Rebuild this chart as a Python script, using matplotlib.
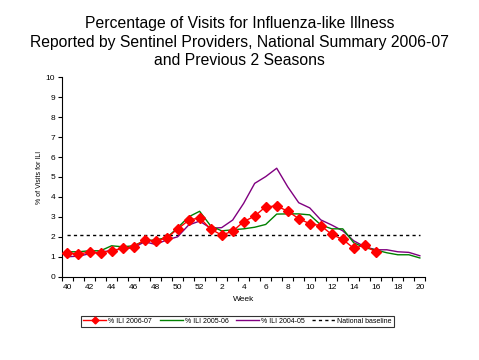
import matplotlib.pyplot as plt
import numpy as np

plt.rcParams['font.family'] = ['Liberation Sans', 'DejaVu Sans']

# weeks 40..52 then 1..20
weeks = list(range(40, 53)) + list(range(1, 21))

# % ILI by season (2006-07 only up to week 16)
ili_2006_07 = [1.17, 1.15, 1.22, 1.19, 1.31, 1.42, 1.5, 1.84, 1.79, 1.94, 2.39, 2.83, 2.96,
               2.39, 2.09, 2.28, 2.76, 3.04, 3.51, 3.54, 3.29, 2.91, 2.66, 2.56, 2.12, 1.87,
               1.42, 1.59, 1.22]
ili_2005_06 = [1.25, 1.25, 1.3, 1.3, 1.55, 1.5, 1.55, 1.8, 1.85, 1.95, 2.45, 3.0, 3.28,
               2.55, 2.3, 2.35, 2.4, 2.48, 2.62, 3.14, 3.15, 3.15, 3.1, 2.6, 2.4, 2.4,
               1.7, 1.45, 1.34, 1.2, 1.1, 1.1, 0.94]
ili_2004_05 = [1.0, 1.03, 1.15, 1.25, 1.3, 1.4, 1.45, 1.75, 1.62, 1.84, 2.0, 2.59, 2.79,
               2.43, 2.46, 2.84, 3.68, 4.68, 5.02, 5.44, 4.51, 3.71, 3.45, 2.85, 2.59, 2.3,
               1.8, 1.5, 1.35, 1.35, 1.25, 1.22, 1.05]
baseline = 2.1

x = np.arange(len(weeks))

fig = plt.figure(figsize=(4.79, 3.6), dpi=100)
ax = fig.add_axes([0.1294, 0.2314, 0.7586, 0.5539])

ax.plot(x[:len(ili_2006_07)], ili_2006_07, color='#FF0000', lw=1.0, marker='D',
        ms=5, mec='#FF0000', mfc='#FF0000', label='% ILI 2006-07', zorder=4)
ax.plot(x, ili_2005_06, color='#008000', lw=1.0, label='% ILI 2005-06', zorder=3)
ax.plot(x, ili_2004_05, color='#800080', lw=1.0, label='% ILI 2004-05', zorder=2)
ax.plot([x[0], x[-1]], [baseline, baseline], color='black', lw=1.0,
        linestyle=(0, (2.3, 2.3)), label='National baseline', zorder=1)

ax.set_xlim(-0.5, len(weeks) - 0.5)
ax.set_ylim(0, 10)
ax.set_yticks(range(0, 11))
ax.tick_params(axis='y', labelsize=6, length=3, width=0.8, pad=2)

# tick marks at category boundaries, labels at every other week
ax.set_xticks(np.arange(-0.5, len(weeks), 1.0))
ax.set_xticklabels([])
ax.tick_params(axis='x', which='major', length=3, width=0.8)
ax.set_xticks(x[::2], minor=True)
ax.set_xticklabels([str(w) for w in weeks[::2]], minor=True)
ax.tick_params(axis='x', which='minor', length=0, labelsize=6, pad=5)

for s in ['top', 'right']:
    ax.spines[s].set_visible(False)
for s in ['left', 'bottom']:
    ax.spines[s].set_linewidth(0.8)

ax.set_xlabel('Week', fontsize=6, labelpad=4)
ax.set_ylabel('% of Visits for ILI', fontsize=5, labelpad=2)

fig.text(0.5, 0.955, 'Percentage of Visits for Influenza-like Illness\n'
         'Reported by Sentinel Providers, National Summary 2006-07\n'
         'and Previous 2 Seasons', ha='center', va='top', fontsize=11.3, linespacing=1.3)

leg = fig.legend(loc='center', bbox_to_anchor=(0.496, 0.108), ncol=4, fontsize=5,
                 frameon=True, fancybox=False, edgecolor='black', handlelength=3.3,
                 columnspacing=1.1, handletextpad=0.3, borderpad=0.3, markerscale=0.7)
leg.get_frame().set_linewidth(0.8)

fig.savefig('out.png', dpi=100)
